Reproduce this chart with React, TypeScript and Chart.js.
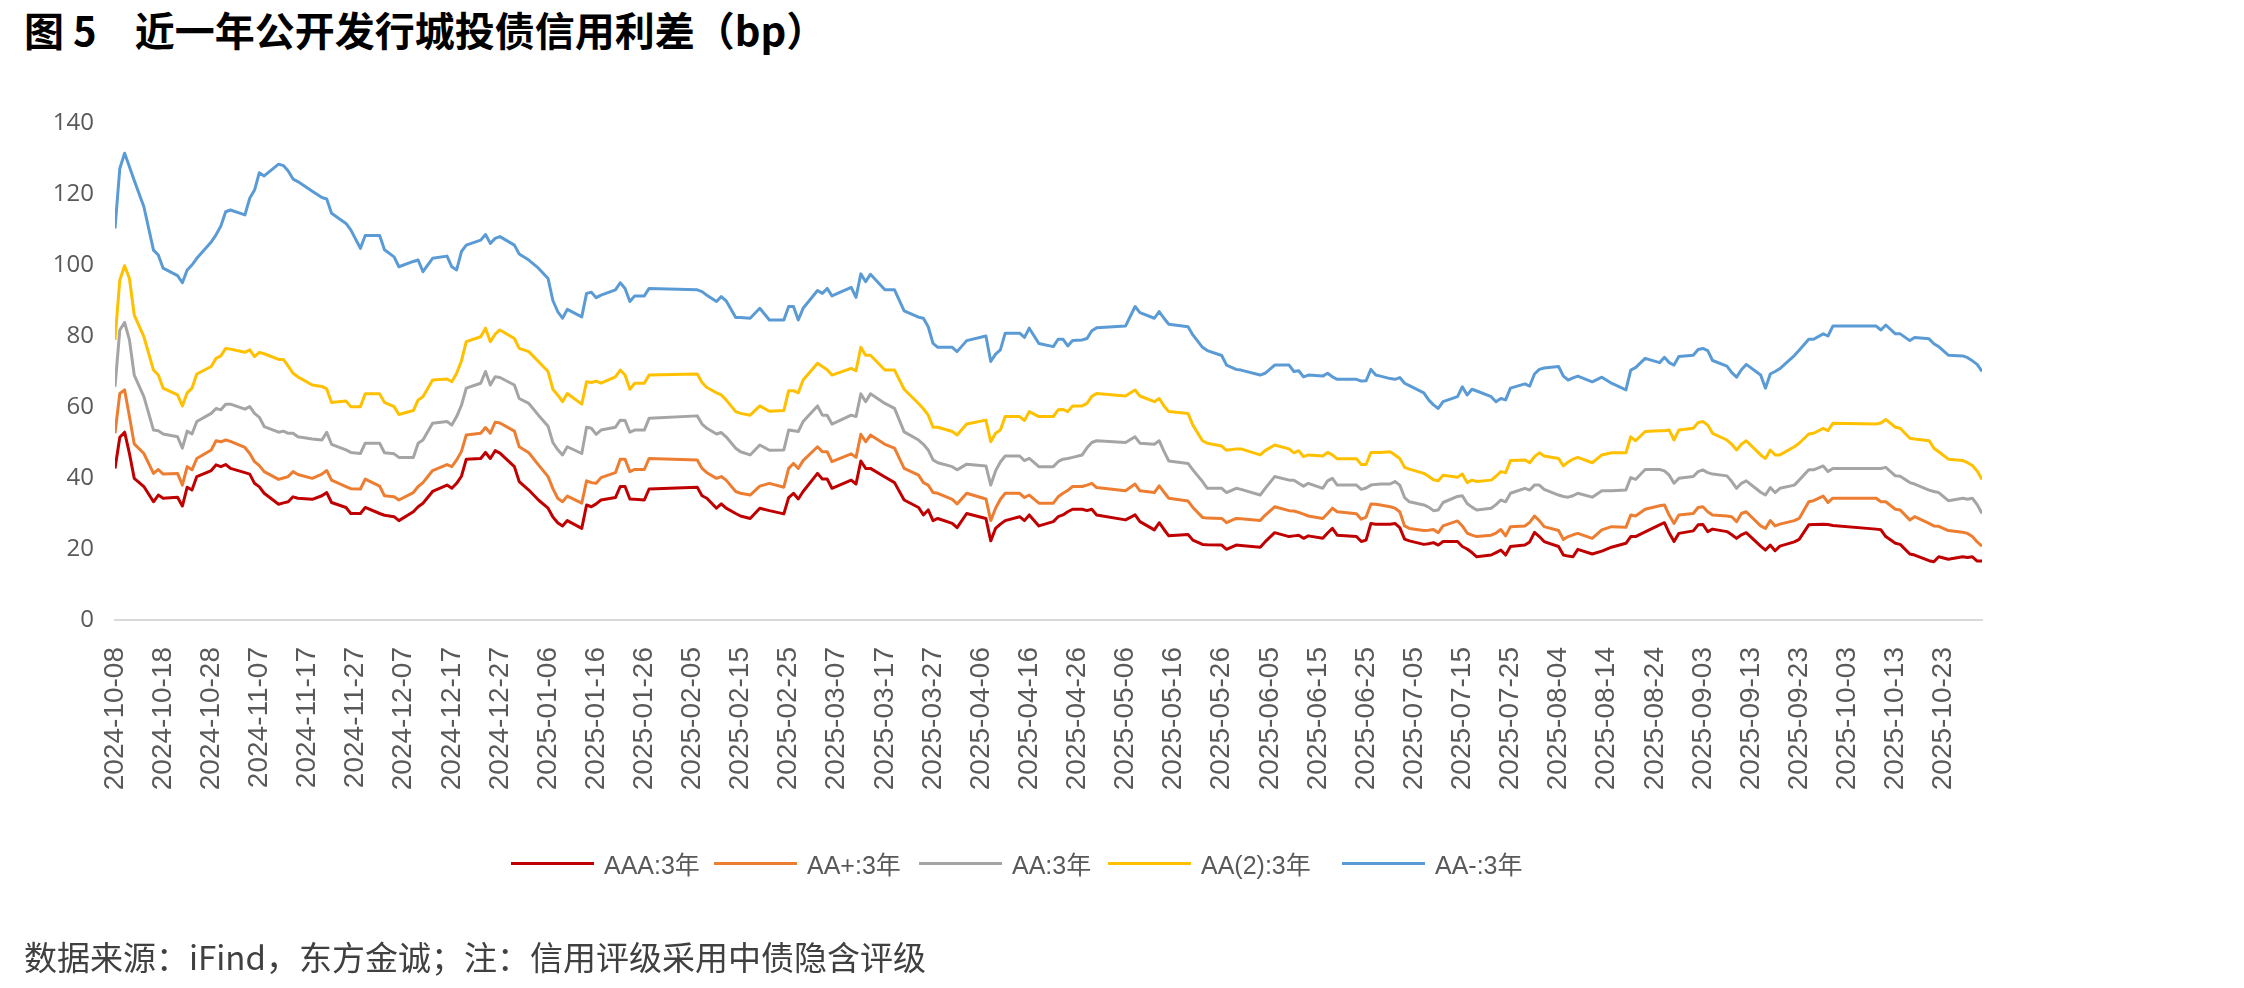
import React, { useEffect, useRef } from "react";
import { Chart, registerables } from "chart.js";

Chart.register(...registerables);

// ---------- data ----------
const START_DATE = "2024-10-08";
const END_OFFSET = 388; // 2025-10-31
const TICK_STEP_DAYS = 10;

// sample dates, as day offsets from START_DATE
const dayOffsets = [
  0, 1, 2, 3, 4, 6, 8, 9, 10, 13, 14, 15, 16, 17, 20, 21, 22, 23, 24, 27, 28, 29, 30, 31, 34, 35, 36, 37, 38, 41, 43, 44, 45, 48, 49, 51, 52, 55, 56, 58, 59, 62, 63,
  64, 66, 69, 70, 71, 72, 73, 76, 77, 78, 79, 80, 83, 84, 86, 88, 90, 91, 92, 93, 94, 97, 98, 99, 100, 101, 104, 105, 106, 107, 108, 110, 111, 121, 122, 123, 125, 126, 127, 129, 130,
  132, 134, 136, 139, 140, 141, 142, 143, 146, 147, 148, 149, 153, 154, 155, 156, 157, 160, 162, 164, 167, 168, 169, 170, 171, 174, 175, 177, 181, 182, 183, 184, 185, 188, 189, 190, 192, 195, 196,
  197, 198, 199, 201, 202, 203, 204, 210, 212, 213, 216, 217, 218, 219, 223, 224, 226, 227, 230, 231, 233, 234, 238, 239, 241, 244, 245, 246, 247, 248, 251, 252, 253, 254, 258, 259, 260, 261, 262, 263,
  265, 266, 267, 268, 269, 272, 273, 274, 275, 276, 279, 280, 281, 282, 283, 286, 287, 288, 289, 290, 293, 294, 295, 296, 297, 300, 301, 302, 303, 304, 307, 309, 311, 314, 315, 316, 318, 321, 322, 323, 324, 325, 328, 329,
  330, 331, 332, 335, 336, 337, 338, 339, 342, 343, 344, 345, 346, 349, 350, 352, 353, 355, 356, 357, 366, 367, 368, 370, 371, 373, 374, 377, 378, 379, 381, 384, 385, 386, 387, 388,
];

const aaa = [
  42.7, 51.5, 52.9, 46.9, 39.9, 37.6, 33.3, 35.2, 34.3, 34.6, 32.1, 37.4, 36.6, 40.4, 42.1, 43.7, 43.2, 43.8, 42.7, 41.5, 41.1, 38.5, 37.5, 35.7, 32.6, 33.0, 33.3, 34.7, 34.3, 34.0, 35.0, 35.9, 33.1, 31.7, 30.0, 30.0, 31.7, 30.0, 29.5, 29.1, 28.0, 30.5, 31.9,
  32.9, 36.2, 38.0, 37.1, 38.5, 40.5, 45.3, 45.5, 47.2, 45.5, 47.7, 47.0, 43.2, 39.0, 36.6, 33.8, 31.5, 29.0, 27.4, 26.5, 28.0, 25.8, 32.4, 31.9, 32.7, 33.8, 34.5, 37.6, 37.6, 34.1, 34.0, 33.8, 36.9, 37.4, 35.0, 34.3, 31.5, 32.7, 31.5, 30.0, 29.3,
  28.6, 31.5, 30.8, 29.9, 34.5, 35.7, 34.1, 36.2, 41.3, 39.7, 39.7, 37.1, 39.4, 38.3, 44.8, 42.7, 42.7, 40.3, 38.7, 33.8, 31.7, 29.6, 31.0, 28.0, 28.6, 27.2, 26.0, 30.0, 28.6, 22.3, 25.8, 27.0, 28.0, 29.1, 28.0, 29.6, 26.5, 27.7, 29.1,
  29.6, 30.5, 31.2, 31.2, 30.8, 31.2, 29.6, 28.2, 29.6, 27.7, 25.4, 27.4, 25.5, 23.7, 24.1, 22.5, 21.3, 21.2, 21.1, 19.9, 21.1, 21.0, 20.5, 22.0, 24.6, 23.5, 23.7, 23.9, 23.0, 23.7, 23.0, 24.5, 25.8, 23.9, 23.5, 22.1, 22.5, 27.2, 27.0, 27.0,
  27.0, 27.2, 26.0, 22.8, 22.3, 21.3, 21.5, 21.8, 21.1, 22.1, 22.1, 20.7, 20.0, 19.0, 17.8, 18.3, 19.0, 19.7, 18.3, 20.7, 21.1, 22.0, 24.7, 23.5, 22.1, 20.7, 18.3, 18.0, 17.8, 19.9, 18.6, 19.4, 20.5, 21.6, 23.5, 23.5, 24.8, 26.8, 27.4, 24.5, 22.1, 24.4, 25.1, 26.8,
  26.9, 24.9, 25.6, 24.9, 24.0, 23.0, 24.0, 24.6, 20.8, 19.7, 21.1, 19.5, 20.8, 22.0, 22.7, 26.8, 26.9, 27.0, 26.9, 26.6, 25.6, 25.4, 23.5, 21.6, 21.3, 18.6, 18.3, 16.7, 16.4, 17.8, 17.1, 17.8, 17.6, 17.8, 16.6, 16.6,
];

const aaPlus = [
  52.6, 63.8, 64.8, 57.3, 49.6, 46.9, 41.3, 42.4, 41.1, 41.3, 38.0, 43.2, 42.3, 45.5, 47.9, 50.5, 50.2, 50.7, 50.3, 48.6, 46.9, 44.6, 43.5, 41.8, 39.6, 40.0, 40.4, 41.8, 41.0, 39.9, 41.1, 42.1, 39.4, 37.6, 37.0, 36.9, 39.7, 37.7, 35.0, 34.7, 33.8, 35.9, 37.6,
  38.7, 42.1, 43.8, 43.2, 45.1, 47.5, 52.1, 52.6, 54.2, 52.6, 55.7, 55.5, 53.2, 48.8, 47.1, 43.7, 40.4, 37.0, 34.3, 33.3, 34.9, 32.9, 39.2, 38.7, 38.5, 40.1, 41.5, 45.3, 45.3, 41.8, 42.4, 42.4, 45.5, 45.1, 42.7, 41.5, 39.9, 40.4, 39.4, 36.2, 35.7,
  35.2, 37.7, 38.5, 37.4, 42.7, 44.1, 42.7, 44.9, 48.8, 47.4, 47.4, 44.6, 46.8, 45.8, 52.3, 50.2, 52.1, 49.5, 48.4, 42.7, 40.8, 38.7, 38.0, 35.9, 35.7, 34.0, 32.7, 35.7, 34.1, 28.0, 31.5, 34.0, 35.7, 35.7, 34.5, 35.2, 32.9, 32.9, 34.7,
  35.7, 36.5, 37.6, 37.6, 38.0, 38.5, 37.3, 36.4, 38.3, 36.4, 35.9, 37.8, 36.0, 34.3, 33.5, 31.7, 28.9, 28.7, 28.6, 27.4, 28.6, 28.5, 28.0, 29.5, 31.9, 30.8, 30.7, 30.3, 29.8, 29.3, 28.6, 30.0, 31.5, 30.5, 29.9, 28.4, 29.0, 32.7, 32.6, 32.4,
  31.9, 31.5, 30.5, 26.5, 25.8, 25.2, 25.3, 25.5, 24.6, 26.5, 27.9, 26.5, 24.5, 23.9, 23.5, 23.9, 24.5, 25.5, 23.7, 26.3, 26.5, 27.5, 29.3, 28.0, 26.3, 25.2, 22.7, 23.5, 24.0, 24.4, 23.0, 25.4, 26.3, 26.1, 29.6, 29.3, 31.2, 32.2, 32.4, 29.5, 27.2, 29.6, 30.0, 31.7,
  31.9, 30.5, 29.6, 29.3, 29.1, 27.7, 30.0, 30.5, 26.5, 25.8, 28.0, 26.5, 27.0, 28.0, 28.6, 33.3, 33.6, 34.9, 33.1, 34.3, 34.3, 33.3, 33.3, 31.2, 31.0, 28.2, 29.1, 27.2, 26.5, 26.4, 25.2, 24.7, 24.4, 23.5, 22.0, 20.8,
];

const aa = [
  65.7, 81.7, 83.8, 78.9, 69.0, 62.9, 53.5, 53.3, 52.4, 51.6, 48.4, 53.2, 52.4, 55.9, 58.2, 59.6, 59.2, 60.8, 60.8, 59.4, 60.1, 58.2, 57.1, 54.5, 52.9, 53.2, 52.6, 52.6, 51.6, 51.0, 50.7, 52.9, 49.5, 47.9, 47.2, 46.9, 49.8, 49.8, 47.1, 46.8, 45.8, 45.8, 49.8,
  50.7, 55.4, 55.9, 54.9, 57.3, 60.5, 65.3, 66.7, 70.0, 66.2, 68.5, 68.3, 66.2, 62.4, 61.0, 57.7, 54.6, 50.0, 48.0, 46.5, 48.8, 46.9, 54.3, 54.0, 52.3, 53.5, 54.3, 56.3, 56.2, 52.9, 53.5, 53.5, 56.8, 57.5, 55.2, 54.0, 52.4, 52.8, 51.6, 48.4, 47.4,
  46.5, 49.3, 47.8, 47.9, 53.5, 53.3, 53.1, 55.9, 60.3, 57.7, 57.7, 55.2, 57.7, 57.3, 63.7, 61.5, 63.7, 61.0, 59.6, 53.0, 50.7, 49.5, 47.9, 45.1, 44.3, 43.2, 42.3, 43.9, 43.4, 38.0, 42.0, 44.5, 46.2, 46.2, 44.9, 45.5, 43.2, 43.2, 44.6,
  45.3, 45.5, 45.8, 46.5, 48.5, 50.0, 50.5, 50.0, 51.6, 49.8, 49.5, 50.5, 47.5, 44.8, 44.1, 42.3, 39.0, 37.1, 37.1, 35.9, 37.1, 36.8, 35.2, 37.0, 40.4, 39.4, 39.4, 38.5, 37.7, 38.5, 37.1, 39.2, 39.9, 38.0, 38.0, 36.8, 37.2, 38.0, 38.2, 38.3,
  38.3, 39.0, 38.0, 34.5, 33.3, 32.4, 31.8, 30.8, 31.0, 33.1, 34.8, 35.0, 32.8, 31.8, 31.0, 31.5, 32.5, 33.8, 33.3, 35.7, 37.1, 36.6, 38.0, 38.0, 36.8, 35.2, 34.8, 34.6, 35.0, 35.7, 34.6, 36.4, 36.4, 36.6, 40.1, 39.6, 42.4, 42.4, 42.0, 40.8, 38.5, 39.9, 40.4, 41.8,
  42.3, 41.5, 41.1, 40.6, 39.0, 37.1, 38.5, 39.2, 36.0, 35.2, 37.3, 35.9, 37.1, 38.0, 39.4, 42.3, 42.3, 43.4, 41.8, 42.7, 42.7, 42.7, 43.0, 40.6, 40.5, 38.7, 38.3, 36.6, 36.2, 35.9, 33.6, 34.3, 34.0, 34.3, 32.5, 30.0,
];

const aa2 = [
  78.9, 95.8, 99.8, 96.2, 85.9, 79.8, 70.4, 69.0, 65.3, 63.4, 60.3, 64.0, 65.3, 69.3, 71.4, 73.7, 74.4, 76.5, 76.3, 75.4, 76.1, 74.2, 75.4, 75.0, 73.4, 73.4, 71.5, 69.5, 68.5, 66.2, 65.8, 65.1, 61.3, 61.7, 60.1, 60.1, 63.7, 63.7, 61.3, 60.1, 57.9, 59.0, 62.0,
  62.9, 67.6, 67.9, 67.1, 69.5, 73.0, 78.4, 79.8, 82.2, 78.4, 80.5, 81.7, 79.3, 76.5, 75.6, 72.8, 70.0, 65.0, 63.4, 61.5, 63.8, 60.8, 67.1, 66.9, 67.3, 66.7, 68.5, 70.4, 69.0, 65.0, 66.7, 66.7, 69.0, 69.3, 66.9, 65.5, 64.0, 63.4, 62.0, 58.7, 58.2,
  57.7, 60.3, 58.8, 59.0, 64.6, 64.6, 64.0, 67.6, 72.3, 71.4, 70.5, 69.0, 70.9, 70.2, 76.8, 74.6, 74.6, 70.4, 70.4, 65.0, 61.0, 59.5, 57.7, 54.3, 54.3, 53.1, 52.1, 55.2, 56.3, 50.2, 52.6, 53.5, 57.3, 57.3, 56.2, 58.7, 57.3, 57.3, 59.2,
  59.3, 58.7, 60.3, 60.3, 61.0, 63.0, 63.8, 63.1, 64.8, 63.1, 61.5, 62.4, 60.3, 58.7, 58.2, 54.9, 50.5, 49.8, 49.0, 47.8, 48.2, 48.2, 46.5, 47.7, 49.3, 48.2, 47.1, 47.7, 46.0, 46.5, 46.2, 47.2, 46.5, 45.4, 45.4, 43.8, 43.8, 47.2, 47.2, 47.2,
  47.4, 46.5, 45.5, 43.0, 42.5, 41.3, 40.5, 39.5, 39.2, 40.8, 40.2, 41.1, 38.7, 39.4, 39.0, 39.4, 40.5, 41.8, 41.5, 44.9, 45.1, 44.3, 46.0, 47.1, 46.2, 45.5, 43.4, 44.5, 45.3, 45.8, 44.3, 46.5, 47.1, 47.1, 51.6, 50.5, 53.1, 53.3, 53.3, 53.5, 50.7, 53.5, 54.0, 55.6,
  55.9, 54.9, 52.6, 50.7, 49.5, 47.9, 49.5, 50.5, 46.5, 45.5, 47.9, 46.5, 46.5, 48.8, 49.8, 52.4, 52.6, 54.0, 53.3, 55.4, 55.2, 55.5, 56.5, 54.3, 54.0, 51.2, 51.0, 50.5, 48.4, 47.4, 45.3, 44.9, 44.3, 43.5, 42.0, 39.6,
];

const aaMinus = [
  110.3, 127.2, 131.5, 127.7, 123.8, 116.4, 104.2, 102.8, 99.1, 97.0, 95.0, 98.6, 100.0, 101.9, 106.5, 108.5, 111.0, 115.0, 115.5, 114.1, 118.8, 121.1, 126.0, 125.1, 128.4, 128.0, 126.5, 124.2, 123.5, 120.8, 119.0, 118.6, 114.6, 111.7, 109.9, 104.7, 108.3, 108.3, 104.3, 102.3, 99.5, 101.0, 101.4,
  98.1, 101.9, 102.5, 99.5, 98.6, 103.8, 105.6, 107.0, 108.6, 106.1, 107.5, 108.0, 105.6, 103.1, 101.4, 99.1, 96.2, 90.0, 86.9, 85.0, 87.5, 85.4, 92.0, 92.3, 90.8, 91.5, 93.0, 95.0, 93.4, 89.7, 91.3, 91.3, 93.4, 93.0, 92.5, 91.5, 89.7, 91.1, 89.9, 85.2, 85.2,
  85.0, 87.8, 84.5, 84.5, 88.3, 88.3, 84.5, 87.8, 92.8, 92.0, 93.4, 91.3, 93.7, 90.9, 97.5, 95.3, 97.4, 93.0, 93.0, 87.1, 85.3, 85.0, 82.6, 77.9, 76.8, 76.8, 75.6, 78.7, 80.0, 72.8, 74.9, 76.1, 80.8, 80.8, 79.6, 82.2, 77.9, 77.0, 79.1,
  79.1, 77.2, 78.7, 78.9, 79.3, 81.5, 82.3, 82.8, 88.3, 86.6, 85.0, 86.9, 85.0, 83.3, 82.6, 80.3, 76.8, 75.9, 74.5, 71.8, 70.6, 70.4, 69.0, 69.5, 71.8, 71.8, 70.0, 70.2, 68.5, 69.0, 68.7, 69.5, 68.5, 67.8, 67.8, 67.3, 67.4, 70.6, 69.0, 68.7,
  68.0, 67.8, 68.3, 66.7, 66.0, 64.0, 62.0, 60.6, 59.6, 61.5, 62.9, 65.7, 63.4, 65.0, 64.5, 62.9, 61.5, 62.4, 62.0, 65.3, 66.5, 65.9, 69.3, 70.6, 71.0, 71.4, 68.7, 67.6, 68.2, 68.7, 67.1, 68.4, 66.7, 64.8, 70.4, 71.1, 73.7, 72.5, 74.0, 72.5, 71.8, 74.2, 74.6, 76.2,
  76.5, 75.9, 73.1, 71.5, 69.7, 68.4, 70.5, 72.0, 69.0, 65.3, 69.3, 70.0, 70.8, 74.5, 76.0, 79.1, 79.1, 80.6, 80.0, 82.8, 82.8, 81.7, 83.1, 80.6, 80.6, 78.7, 79.6, 79.2, 77.8, 77.0, 74.6, 74.4, 73.9, 73.0, 72.0, 70.0,
];

const seriesNames = ["AAA:3年", "AA+:3年", "AA:3年", "AA(2):3年", "AA-:3年"];
const seriesValues = [aaa, aaPlus, aa, aa2, aaMinus];
const seriesColors = ["#C00000", "#ED7D31", "#A5A5A5", "#FFC000", "#5B9BD5"];

const Y_MIN = 0;
const Y_MAX = 140;
const Y_STEP = 20;

const TITLE_PREFIX = "图 5";
const TITLE_TEXT = "近一年公开发行城投债信用利差（bp）";
const FOOTER_TEXT = "数据来源：iFind，东方金诚；注：信用评级采用中债隐含评级";

// ---------- helpers ----------
const startMs = Date.parse(START_DATE + "T00:00:00Z");
function offsetToDate(offset: number): string {
  const d = new Date(startMs + Math.round(offset) * 86400000);
  return d.toISOString().slice(0, 10);
}

// layout constants
const W = 2244;
const H = 988;
const LEGEND_X = [511, 714, 919, 1108, 1342];

export default function App() {
  const canvasRef = useRef<HTMLCanvasElement | null>(null);

  useEffect(() => {
    const canvas = canvasRef.current;
    if (!canvas) return;
    const chart = new Chart(canvas, {
      type: "line",
      data: {
        datasets: seriesNames.map((name, si) => ({
          label: name,
          data: dayOffsets.map((d, i) => ({ x: d, y: seriesValues[si][i] })),
          borderColor: seriesColors[si],
          backgroundColor: seriesColors[si],
          borderWidth: 3,
          pointRadius: 0,
          tension: 0,
          fill: false,
          borderJoinStyle: "round" as const,
        })),
      },
      options: {
        responsive: false,
        maintainAspectRatio: false,
        animation: false,
        layout: { padding: { left: 0, right: 262, top: 123, bottom: 168 } },
        plugins: {
          legend: { display: false },
          tooltip: { enabled: false },
          title: { display: false },
        },
        scales: {
          x: {
            type: "linear",
            min: 0,
            max: END_OFFSET,
            grid: { display: false, drawTicks: false },
            border: { display: true, color: "#D9D9D9", width: 2 },
            ticks: {
              stepSize: TICK_STEP_DAYS,
              includeBounds: false,
              autoSkip: false,
              minRotation: 90,
              maxRotation: 90,
              padding: 27,
              color: "#595959",
              font: { family: "'Liberation Sans', Arial, sans-serif", size: 28 },
              callback: (v: any) => offsetToDate(Number(v)),
            },
            afterFit: (s: any) => {
              s.height = 200;
            },
          },
          y: {
            min: Y_MIN,
            max: Y_MAX,
            grid: { display: false, drawTicks: false },
            border: { display: false },
            ticks: {
              stepSize: Y_STEP,
              padding: 21,
              color: "#595959",
              font: { family: "'Open Sans', sans-serif", size: 24 },
            },
            afterFit: (s: any) => {
              s.width = 115;
            },
          },
        },
      },
    });
    return () => chart.destroy();
  }, []);

  return (
    <div
      style={{
        position: "absolute",
        left: 0,
        top: 0,
        width: W,
        height: H,
        background: "#ffffff",
        overflow: "hidden",
      }}
    >
      <div
        style={{
          position: "absolute",
          left: 24,
          top: 2,
          fontFamily: "'Noto Sans CJK SC', sans-serif",
          fontWeight: 700,
          fontSize: 40,
          color: "#000000",
          whiteSpace: "nowrap",
          lineHeight: "54px",
        }}
      >
        <span>{TITLE_PREFIX}</span>
        <span style={{ marginLeft: 38 }}>{TITLE_TEXT}</span>
      </div>
      <canvas
        ref={canvasRef}
        width={W}
        height={H}
        style={{ position: "absolute", left: 0, top: 0, width: W, height: H }}
      />
      {seriesNames.map((name, i) => (
        <div
          key={name}
          style={{
            position: "absolute",
            left: LEGEND_X[i],
            top: 845,
            height: 36,
            display: "flex",
            alignItems: "center",
            whiteSpace: "nowrap",
          }}
        >
          <div style={{ width: 83, height: 3, background: seriesColors[i] }} />
          <span
            style={{
              marginLeft: 10,
              fontFamily: "'Liberation Sans', 'Noto Sans CJK SC', sans-serif",
              fontSize: 25,
              color: "#595959",
            }}
          >
            {name}
          </span>
        </div>
      ))}
      <div
        style={{
          position: "absolute",
          left: 24,
          top: 934,
          fontFamily: "'Noto Sans CJK SC', sans-serif",
          fontSize: 33,
          color: "#404040",
          whiteSpace: "nowrap",
          lineHeight: "44px",
        }}
      >
        {FOOTER_TEXT}
      </div>
    </div>
  );
}
